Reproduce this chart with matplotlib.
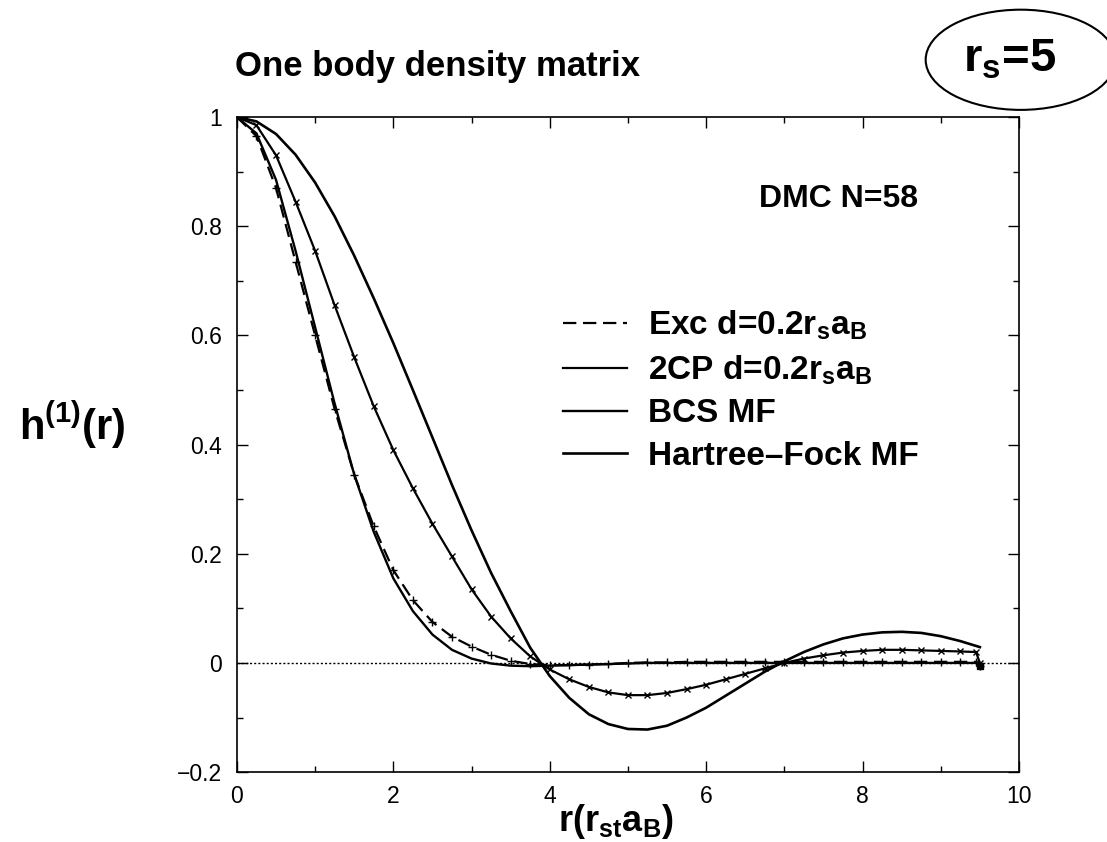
import matplotlib
matplotlib.use("Agg")
import matplotlib.pyplot as plt
from matplotlib.patches import Ellipse
from matplotlib.ticker import MultipleLocator, FuncFormatter

plt.rcParams['font.family'] = ['Liberation Sans', 'DejaVu Sans']
plt.rcParams['mathtext.fontset'] = 'custom'
plt.rcParams['mathtext.rm'] = 'Liberation Sans'
plt.rcParams['mathtext.bf'] = 'Liberation Sans:bold'
plt.rcParams['mathtext.it'] = 'Liberation Sans:italic'
plt.rcParams['mathtext.default'] = 'bf'

# r grid in units of r_s a_B
r = [0, 0.25, 0.5, 0.75, 1.0, 1.25, 1.5, 1.75, 2.0, 2.25, 2.5, 2.75, 3.0, 3.25,
     3.5, 3.75, 4.0, 4.25, 4.5, 4.75, 5.0, 5.25, 5.5, 5.75, 6.0, 6.25, 6.5,
     6.75, 7.0, 7.25, 7.5, 7.75, 8.0, 8.25, 8.5, 8.75, 9.0, 9.25, 9.5]
r_dmc = r[:-1] + [9.45, 9.5]

hf_mf = [1.0, 0.992, 0.969, 0.931, 0.880, 0.818, 0.746, 0.668, 0.586, 0.500,
         0.413, 0.326, 0.243, 0.165, 0.095, 0.028, -0.024, -0.064, -0.094,
         -0.112, -0.121, -0.122, -0.115, -0.100, -0.082, -0.060, -0.038,
         -0.016, 0.003, 0.020, 0.034, 0.045, 0.052, 0.056, 0.057, 0.055,
         0.049, 0.040, 0.029]

bcs_mf = [1.0, 0.97, 0.885, 0.755, 0.615, 0.475, 0.345, 0.24, 0.155, 0.095,
          0.052, 0.024, 0.008, -0.001, -0.005, -0.006, -0.005, -0.004, -0.003,
          -0.002, -0.001, 0.0, 0.0, 0.0, 0.0, 0.0, 0.0, 0.0, 0.0, 0.0, 0.0,
          0.0, 0.0, 0.0, 0.0, 0.0, 0.0, 0.0, 0.0]

exc_dmc = [1.0, 0.965, 0.87, 0.735, 0.6, 0.465, 0.345, 0.25, 0.17, 0.115,
           0.075, 0.048, 0.03, 0.015, 0.004, -0.002, -0.004, -0.004, -0.003,
           -0.002, 0.0, 0.001, 0.001, 0.002, 0.002, 0.002, 0.002, 0.002, 0.002,
           0.002, 0.002, 0.002, 0.002, 0.002, 0.002, 0.002, 0.002, 0.002,
           0.002, -0.006]

twocp_dmc = [1.0, 0.985, 0.93, 0.845, 0.755, 0.655, 0.56, 0.47, 0.39, 0.32,
             0.255, 0.195, 0.135, 0.085, 0.045, 0.012, -0.012, -0.03, -0.044,
             -0.054, -0.059, -0.059, -0.055, -0.048, -0.04, -0.03, -0.02,
             -0.01, 0.0, 0.008, 0.014, 0.019, 0.022, 0.024, 0.024, 0.023,
             0.022, 0.021, 0.02, 0.0]

labels = ['Exc d=0.2$r_s a_B$', '2CP d=0.2$r_s a_B$', 'BCS MF',
          'Hartree\u2013Fock MF']

fig = plt.figure(figsize=(11.07, 8.42), dpi=100)
ax = fig.add_axes([0.214, 0.083, 0.7065, 0.778])

ax.axhline(0, color='black', lw=1.0, ls=(0, (1.5, 1.5)), zorder=1)

l_exc, = ax.plot(r_dmc, exc_dmc, color='black', lw=1.6, dashes=(6, 3))
ax.plot(r_dmc, exc_dmc, ls='none', marker='+', ms=6, mew=1.0, color='black')
ax.plot(r_dmc[-1:], exc_dmc[-1:], ls='none', marker='s', ms=4, color='black')
l_2cp, = ax.plot(r_dmc, twocp_dmc, color='black', lw=1.6)
ax.plot(r_dmc, twocp_dmc, ls='none', marker='x', ms=5, mew=1.0, color='black')
l_bcs, = ax.plot(r, bcs_mf, color='black', lw=1.7)
l_hf, = ax.plot(r, hf_mf, color='black', lw=1.9)

ax.set_xlim(0, 10)
ax.set_ylim(-0.2, 1.0)
ax.xaxis.set_major_locator(MultipleLocator(2))
ax.xaxis.set_minor_locator(MultipleLocator(1))
ax.yaxis.set_major_locator(MultipleLocator(0.2))
ax.yaxis.set_minor_locator(MultipleLocator(0.1))
fmt = FuncFormatter(lambda v, p: ('%g' % round(v, 3)).replace('-', '\u2212'))
ax.xaxis.set_major_formatter(fmt)
ax.yaxis.set_major_formatter(fmt)
ax.tick_params(which='both', direction='in', top=True, right=True, width=1.0)
ax.tick_params(which='major', length=8, labelsize=16.5)
ax.tick_params(which='minor', length=4)
ax.tick_params(axis='y', pad=11)
ax.tick_params(axis='x', pad=9)
for s in ax.spines.values():
    s.set_linewidth(1.2)

ax.set_xlabel('$r(r_{st}a_B)$', fontsize=26)
ax.xaxis.set_label_coords(0.485, -0.045)
ax.xaxis.label.set_va('top')
ax.set_ylabel('$h^{(1)}(r)$', fontsize=30, rotation=0, ha='center', va='center')
ax.yaxis.set_label_coords(-0.211, 0.53)

ax.legend([l_exc, l_2cp, l_bcs, l_hf], labels, loc='upper left',
          bbox_to_anchor=(0.417, 0.707), frameon=False,
          handlelength=1.92, handletextpad=0.63, labelspacing=0.34,
          borderpad=0, borderaxespad=0, prop={'weight': 'bold', 'size': 24})

ax.text(6.67, 0.835, 'DMC N=58', fontsize=23, fontweight='bold', ha='left',
        va='baseline')

fig.text(0.212, 0.91, 'One body density matrix', fontsize=25,
         fontweight='bold', ha='left', va='baseline')

ell = Ellipse((0.922, 0.929), 0.1716, 0.119, transform=fig.transFigure,
              fill=False, lw=1.5, color='black')
fig.patches.append(ell)
fig.text(0.912, 0.929, '$r_s$=5', fontsize=34, fontweight='bold',
         ha='center', va='center')

fig.savefig('out.png', dpi=100)
